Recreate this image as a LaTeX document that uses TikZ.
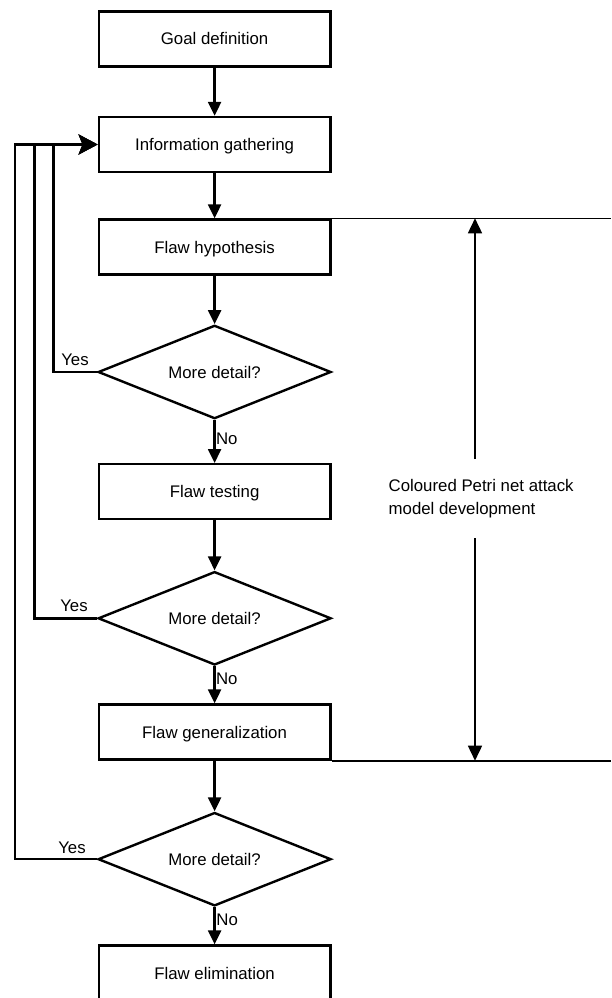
\documentclass[tikz,border=0pt]{standalone}
\usepackage{fontspec}
\setmainfont{Liberation Sans}
\usetikzlibrary{shapes.geometric,arrows.meta}
\begin{document}
\begin{tikzpicture}[x=1pt,y=-1pt,
  txt/.style={font=\fontsize{16.8}{20}\selectfont, text height=12pt, text depth=0pt},
  stepbox/.style={draw, txt, line width=2.4pt, minimum width=231.6pt,
    minimum height=55pt, inner sep=0pt},
  decision/.style={draw, diamond, txt, aspect=2.5, line width=2.4pt,
    minimum width=233pt, minimum height=93.4pt, inner sep=0pt},
  flow/.style={line width=2.4pt, -{Triangle[width=13pt,length=14pt]}},
  loopback/.style={line width=2.4pt, -{Stealth[width=20pt,length=19pt,inset=4pt]}},
  lbl/.style={txt, inner sep=0pt},
  span/.style={line width=1.6pt},
  spanarrow/.style={line width=1.6pt, -{Triangle[width=14pt,length=15pt]}}
]
\useasboundingbox (0,0) rectangle (611,998);

% main sequence
\node[stepbox]  (goal) at (214.6,38.85) {Goal definition};
\node[stepbox]  (info) at (214.6,144.5) {Information gathering};
\node[stepbox]  (hyp)  at (214.6,247)   {Flaw hypothesis};
\node[decision] (d1)   at (214.6,372)   {More detail?};
\node[stepbox]  (test) at (214.6,491.7) {Flaw testing};
\node[decision] (d2)   at (214.6,618.3) {More detail?};
\node[stepbox]  (gen)  at (214.6,732)   {Flaw generalization};
\node[decision] (d3)   at (214.6,859.2) {More detail?};
\node[stepbox]  (elim) at (214.6,973.05) {Flaw elimination};

\draw[flow] (goal.south) -- (info.north);
\draw[flow] (info.south) -- (hyp.north);
\draw[flow] (hyp.south)  -- (d1.north);
\draw[flow] (d1.south)   -- (test.north);
\draw[flow] (test.south) -- (d2.north);
\draw[flow] (d2.south)   -- (gen.north);
\draw[flow] (gen.south)  -- (d3.north);
\draw[flow] (d3.south)   -- (elim.north);

% branch labels
\node[lbl] (yes1) at (75,359.2) {Yes};
\node[lbl] (yes2) at (74,605.4) {Yes};
\node[lbl] (yes3) at (72,847)   {Yes};
\node[lbl, anchor=west] (no1) at (215.8,438.3) {No};
\node[lbl, anchor=west] (no2) at (215.8,678.3) {No};
\node[lbl, anchor=west] (no3) at (216.2,919)   {No};

% feedback loops back to information gathering
\coordinate (c1) at (53.3,0);
\coordinate (c2) at (34.3,0);
\coordinate (c3) at (15,0);
\draw[loopback] (d1.west) -| (c1 |- info.west) -- (info.west);
\draw[loopback] (d2.west) -| (c2 |- info.west) -- (info.west);
\draw[loopback] (d3.west) -| (c3 |- info.west) -- (info.west);

% span of the coloured Petri net phase
\coordinate (redge) at (611,0);
\draw[span] (hyp.north east) -- (hyp.north east -| redge);
\draw[span] (gen.south east) -- (gen.south east -| redge);
\node[inner sep=0pt, anchor=north west, align=left,
      font=\fontsize{16.8}{22.6}\selectfont] (cpn) at (388.5,479.5)
      {Coloured Petri net attack\\model development};
\coordinate (cpntop) at (475,0 |- hyp.north east);
\coordinate (cpnbot) at (475,0 |- gen.south east);
\coordinate (cpnup) at (475,459);
\coordinate (cpndn) at (475,538);
\draw[spanarrow] (cpnup) -- (cpntop);
\draw[spanarrow] (cpndn) -- (cpnbot);
\end{tikzpicture}
\end{document}
